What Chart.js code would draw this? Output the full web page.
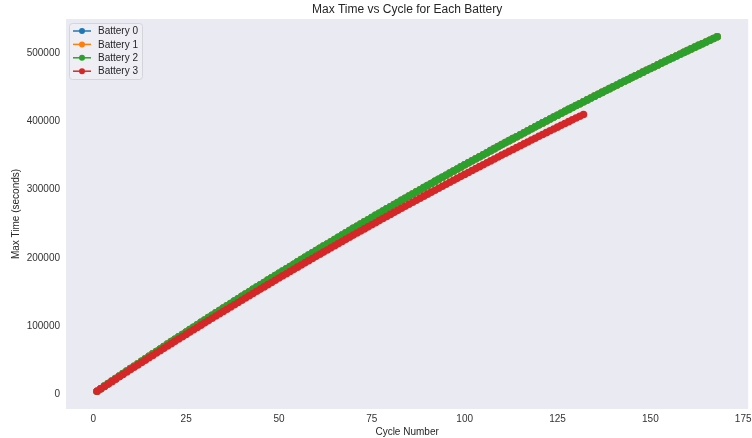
<!DOCTYPE html>
<html>
<head>
<meta charset="utf-8">
<script src="https://cdn.jsdelivr.net/npm/chart.js@4"></script>
<style>
  html, body { margin: 0; padding: 0; background: #ffffff; }
  #wrap { width: 752px; height: 438px; }
</style>
</head>
<body>
<div id="wrap"><canvas id="c" width="752" height="438"></canvas></div>
<script>
const chartTitle = 'Max Time vs Cycle for Each Battery';
const xAxisLabel = 'Cycle Number';
const yAxisLabel = 'Max Time (seconds)';
const seriesNames = ['Battery 0', 'Battery 1', 'Battery 2', 'Battery 3'];
const seriesColors = ['#1f77b4', '#ff7f0e', '#2ca02c', '#d62728'];
const xTickValues = [0, 25, 50, 75, 100, 125, 150, 175];
const yTickValues = [0, 100000, 200000, 300000, 400000, 500000];

// Battery 2 max time per cycle (cycles 1..168)
const battery2Values = [
  5000, 8660, 12330, 15990, 19660, 23320, 26990, 30650, 34310, 37970,
  41570, 45170, 48760, 52360, 55960, 59550, 63150, 66750, 70340, 73940,
  77470, 80990, 84520, 88050, 91570, 95100, 98620, 102150, 105680, 109200,
  112660, 116110, 119570, 123020, 126480, 129940, 133390, 136850, 140310, 143760,
  147150, 150530, 153920, 157300, 160690, 164080, 167460, 170850, 174230, 177610,
  180930, 184240, 187560, 190870, 194190, 197500, 200820, 204130, 207450, 210760,
  214000, 217250, 220490, 223730, 226980, 230220, 233470, 236710, 239950, 243200,
  246370, 249550, 252720, 255890, 259060, 262240, 265410, 268580, 271760, 274930,
  278030, 281140, 284240, 287340, 290440, 293550, 296650, 299750, 302860, 305960,
  308990, 312020, 315060, 318090, 321120, 324150, 327180, 330220, 333250, 336280,
  339240, 342200, 345170, 348130, 351090, 354050, 357010, 359970, 362940, 365900,
  368790, 371680, 374570, 377460, 380350, 383240, 386130, 389020, 391910, 394810,
  397630, 400450, 403270, 406090, 408910, 411730, 414550, 417370, 420190, 423010,
  425760, 428510, 431260, 434010, 436760, 439510, 442260, 445010, 447760, 450510,
  453190, 455870, 458550, 461230, 463910, 466580, 469260, 471940, 474620, 477300,
  479910, 482520, 485130, 487740, 490350, 492950, 495560, 498170, 500780, 503390,
  505940, 508480, 511030, 513570, 516120, 518660, 521210, 523750
];

// Battery 3 max time per cycle (cycles 1..132)
const battery3Values = [
  4860, 8380, 11910, 15430, 18960, 22480, 26010, 29530, 33050, 36570,
  40030, 43490, 46940, 50400, 53860, 57310, 60770, 64230, 67680, 71140,
  74530, 77910, 81300, 84690, 88070, 91460, 94840, 98230, 101620, 105000,
  108320, 111630, 114950, 118260, 121580, 124900, 128210, 131530, 134850, 138160,
  141410, 144650, 147900, 151140, 154390, 157640, 160880, 164130, 167370, 170610,
  173790, 176960, 180140, 183310, 186490, 189660, 192840, 196010, 199190, 202360,
  205460, 208570, 211670, 214770, 217880, 220980, 224090, 227190, 230290, 233400,
  236430, 239470, 242500, 245530, 248560, 251600, 254630, 257660, 260700, 263730,
  266690, 269660, 272620, 275580, 278540, 281510, 284470, 287430, 290400, 293360,
  296250, 299140, 302040, 304930, 307820, 310710, 313600, 316500, 319390, 322280,
  325100, 327920, 330750, 333570, 336390, 339210, 342030, 344850, 347680, 350500,
  353250, 356000, 358750, 361500, 364250, 367000, 369750, 372500, 375250, 378010,
  380690, 383370, 386050, 388730, 391410, 394090, 396770, 399450, 402130, 404810,
  407420, 410030
];

// Batteries 0 and 1 lie entirely under Battery 2 in the picture
const battery0Values = battery2Values;
const battery1Values = battery2Values;

const allSeries = [battery0Values, battery1Values, battery2Values, battery3Values];

function toPoints(values) {
  return values.map((v, i) => ({ x: i + 1, y: v }));
}

const FONT = "'Liberation Sans', Arial, sans-serif";
const TEXT = '#262626';

const decorPlugin = {
  id: 'decor',
  beforeDraw(chart) {
    const { ctx, chartArea: a } = chart;
    ctx.save();
    ctx.fillStyle = '#ffffff';
    ctx.fillRect(0, 0, chart.width, chart.height);
    ctx.fillStyle = '#eaeaf2';
    ctx.fillRect(a.left, a.top, a.right - a.left, a.bottom - a.top);
    ctx.restore();
  },
  afterDraw(chart) {
    const { ctx, chartArea: a } = chart;
    ctx.save();
    // title
    ctx.fillStyle = TEXT;
    ctx.font = '12px ' + FONT;
    ctx.textAlign = 'center';
    ctx.textBaseline = 'middle';
    ctx.fillText(chartTitle, (a.left + a.right) / 2, 10);
    // legend
    const bx = a.left + 3, by = a.top + 4, bw = 73, bh = 56;
    ctx.beginPath();
    ctx.roundRect(bx + 0.5, by + 0.5, bw, bh, 3);
    ctx.fillStyle = 'rgba(238,238,244,0.9)';
    ctx.fill();
    ctx.strokeStyle = '#d4d4dc';
    ctx.lineWidth = 1;
    ctx.stroke();
    ctx.font = '10px ' + FONT;
    ctx.textAlign = 'left';
    chart.data.datasets.forEach((ds, i) => {
      const y = by + 8 + i * 13.4;
      ctx.strokeStyle = ds.borderColor;
      ctx.lineWidth = 1.5;
      ctx.beginPath();
      ctx.moveTo(bx + 4, y);
      ctx.lineTo(bx + 22, y);
      ctx.stroke();
      ctx.fillStyle = ds.borderColor;
      ctx.beginPath();
      ctx.arc(bx + 13, y, 3, 0, Math.PI * 2);
      ctx.fill();
      ctx.fillStyle = TEXT;
      ctx.fillText(ds.label, bx + 29, y + 0.5);
    });
    ctx.restore();
  }
};

new Chart(document.getElementById('c'), {
  type: 'line',
  data: {
    datasets: allSeries.map((vals, i) => ({
      label: seriesNames[i],
      data: toPoints(vals),
      order: allSeries.length - 1 - i,
      borderColor: seriesColors[i],
      backgroundColor: seriesColors[i],
      borderWidth: 1.5,
      pointRadius: 3.8,
      pointBorderWidth: 0,
      pointHoverRadius: 3.8,
      fill: false,
      tension: 0
    }))
  },
  options: {
    responsive: false,
    animation: false,
    devicePixelRatio: 1,
    layout: { padding: { top: 19, right: 3, left: 0, bottom: 0 } },
    plugins: {
      legend: { display: false },
      title: { display: false },
      tooltip: { enabled: false }
    },
    scales: {
      x: {
        type: 'linear',
        min: -7.35,
        max: 176.35,
        grid: { display: false, drawTicks: false },
        border: { display: false },
        ticks: {
          color: '#333333',
          font: { family: FONT, size: 10 },
          padding: 4,
          maxRotation: 0,
          autoSkip: false
        },
        afterBuildTicks(scale) { scale.ticks = xTickValues.map(v => ({ value: v })); },
        afterFit(scale) { scale.height = 29; scale.paddingLeft = 0; scale.paddingRight = 0; },
        title: {
          display: true,
          text: xAxisLabel,
          color: TEXT,
          font: { family: FONT, size: 10 },
          padding: { top: 0, bottom: 0 }
        }
      },
      y: {
        type: 'linear',
        min: -21085,
        max: 549695,
        grid: { display: false, drawTicks: false },
        border: { display: false },
        ticks: {
          color: '#333333',
          font: { family: FONT, size: 10 },
          padding: 6,
          autoSkip: false,
          callback: v => String(v)
        },
        afterBuildTicks(scale) { scale.ticks = yTickValues.map(v => ({ value: v })); },
        afterFit(scale) { scale.width = 66; scale.paddingTop = 0; scale.paddingBottom = 0; },
        title: {
          display: true,
          text: yAxisLabel,
          color: TEXT,
          font: { family: FONT, size: 10 },
          padding: { top: 10, bottom: 0 }
        }
      }
    }
  },
  plugins: [decorPlugin]
});
</script>
</body>
</html>
